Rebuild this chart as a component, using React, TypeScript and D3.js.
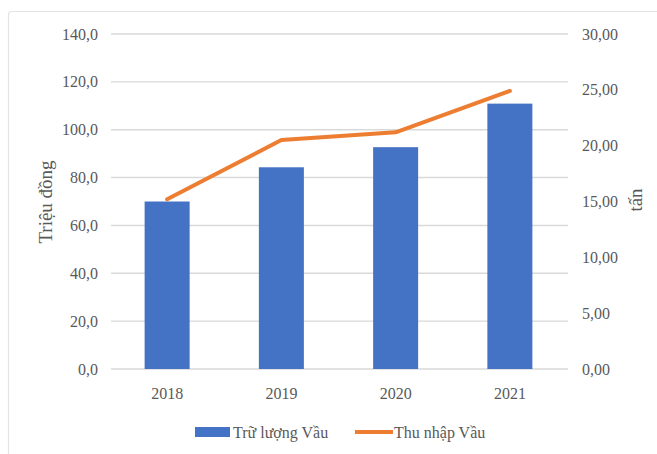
import React from "react";
import * as d3 from "d3";

const years = ["2018", "2019", "2020", "2021"];
const reserveValues = [70.0, 84.3, 92.7, 110.9]; // Trữ lượng Vầu (left axis)
const incomeValues = [15.2, 20.5, 21.2, 24.9]; // Thu nhập Vầu (right axis)
const leftTicks = [0, 20, 40, 60, 80, 100, 120, 140];
const rightTicks = [0, 5, 10, 15, 20, 25, 30];
const leftTitle = "Triệu đồng";
const rightTitle = "tấn";
const seriesNames = ["Trữ lượng Vầu", "Thu nhập Vầu"];

const W = 657;
const H = 454;
const plotLeft = 111;
const plotRight = 568;
const plotTop = 34;
const plotBottom = 369;

const BLUE = "#4472C4";
const ORANGE = "#ED7D31";
const GRID = "#d9d9d9";
const TEXT = "#595959";
const FONT = "Liberation Serif, Times New Roman, DejaVu Serif, serif";

const locale = d3.formatLocale({ decimal: ",", thousands: ".", grouping: [3], currency: ["", ""] });
const fmt1 = locale.format(".1f");
const fmt2 = locale.format(".2f");

const txt = { fontFamily: FONT };

export default function App() {
  const x = d3.scaleBand<string>().domain(years).range([110, 567]).padding(0);
  const yL = d3.scaleLinear().domain([0, 140]).range([plotBottom, plotTop]);
  const yR = d3.scaleLinear().domain([0, 30]).range([plotBottom, plotTop]);
  const barW = 45;
  const cx = (d: string) => (x(d) as number) + x.bandwidth() / 2;

  const line = d3
    .line<number>()
    .x((_, i) => cx(years[i]))
    .y((d) => yR(d));

  return (
    <svg
      width={W}
      height={H}
      style={{ position: "absolute", left: 0, top: 0, background: "#fff", fontFamily: FONT }}
    >
      <rect x={0} y={0} width={W} height={H} fill="#fff" />
      <rect x={8.5} y={11.5} width={W + 20} height={H + 20} rx={3} fill="#fff" stroke="#e3e3e3" strokeWidth={1.2} />
      {leftTicks.map((t) => (
        <g key={"l" + t}>
          <line x1={plotLeft} x2={plotRight} y1={yL(t)} y2={yL(t)} stroke={GRID} strokeWidth={1.4} />
          <text x={98} y={yL(t)} dy="0.35em" textAnchor="end" fontSize={16} fill={TEXT} style={txt}>
            {fmt1(t)}
          </text>
        </g>
      ))}
      {rightTicks.map((t) => (
        <text key={"r" + t} x={582} y={yR(t)} dy="0.35em" textAnchor="start" fontSize={16} fill={TEXT} style={txt}>
          {fmt2(t)}
        </text>
      ))}
      {years.map((yr, i) => (
        <rect
          key={yr}
          x={cx(yr) - barW / 2}
          y={yL(reserveValues[i])}
          width={barW}
          height={plotBottom - yL(reserveValues[i])}
          fill={BLUE}
        />
      ))}
      <path d={line(incomeValues) || ""} fill="none" stroke={ORANGE} strokeWidth={4} strokeLinejoin="round" strokeLinecap="round" />
      {years.map((yr) => (
        <text key={"x" + yr} x={cx(yr)} y={393} dy="0.35em" textAnchor="middle" fontSize={16} fill={TEXT} style={txt}>
          {yr}
        </text>
      ))}
      <text
        transform={`translate(45,202) rotate(-90)`}
        textAnchor="middle"
        dy="0.35em"
        fontSize={19}
        fill={TEXT}
        style={txt}
      >
        {leftTitle}
      </text>
      <text
        transform={`translate(635,200) rotate(-90)`}
        textAnchor="middle"
        dy="0.35em"
        fontSize={19}
        fill={TEXT}
        style={txt}
      >
        {rightTitle}
      </text>
      <g>
        <rect x={195} y={427} width={35} height={10} fill={BLUE} />
        <text x={233} y={432} dy="0.35em" fontSize={16} fill={TEXT} style={txt}>
          {seriesNames[0]}
        </text>
        <line x1={355} x2={393} y1={432} y2={432} stroke={ORANGE} strokeWidth={4} />
        <text x={394} y={432} dy="0.35em" fontSize={16} fill={TEXT} style={txt}>
          {seriesNames[1]}
        </text>
      </g>
    </svg>
  );
}
